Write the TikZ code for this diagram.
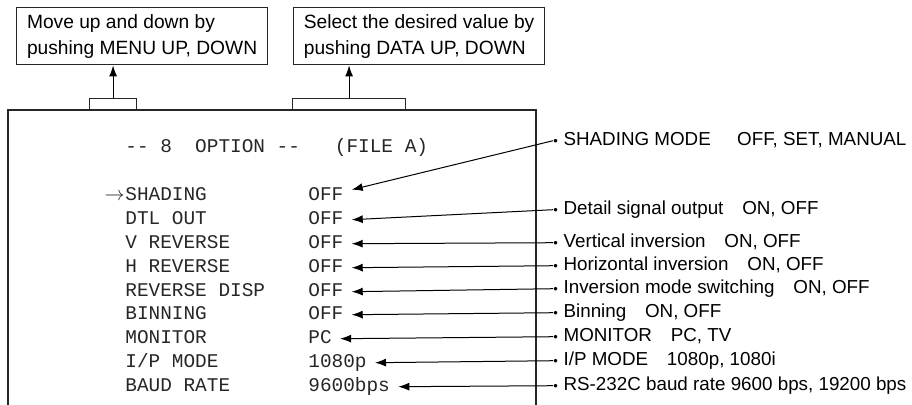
\documentclass[tikz,border=0pt]{standalone}
\usepackage{fontspec}
\setmainfont{Liberation Sans}
\setmonofont{Liberation Mono}
\usetikzlibrary{arrows.meta}

\newcommand{\bul}{\raisebox{0.3pt}{\fontsize{6.5}{5}\selectfont •}\hspace{0.3em}}

\begin{document}
\begin{tikzpicture}[
		x=0.5pt, y=-0.5pt,
		note/.style={rectangle, draw=black!85, line width=0.6pt, align=left,
			minimum width=125.5pt, minimum height=28pt, anchor=north west,
			font=\fontsize{9.6}{13}\selectfont},
		tab/.style={rectangle, draw=black!85, line width=0.6pt, inner sep=0,
			minimum height=5.5pt, anchor=south west},
		frame/.style={draw=black!85, line width=0.6pt},
		entry/.style={anchor=base west, inner sep=0, text=black!85,
			font=\ttfamily\fontsize{9.7}{12}\selectfont},
		setting/.style={entry, inner xsep=4pt},
		remark/.style={anchor=base west, inner sep=0, font=\fontsize{9.4}{12}\selectfont},
		arr/.style={-{Latex[length=5.5pt, width=4pt]}, line width=0.5pt}
	]
	\useasboundingbox (0,0) rectangle (912,405);

	\node[note] (menu) at (16,7) {Move up and down by\\pushing MENU UP, DOWN};
	\node[note] (data) at (293,7) {Select the desired value by\\pushing DATA UP, DOWN};

	\draw[frame] (8,405) |- (536,110) -- (536,405);
	\node[tab, minimum width=23.5pt] (tabmenu) at (89,110) {};
	\node[tab, minimum width=56.5pt] (tabdata) at (292,110) {};
	\draw[arr] (tabmenu.north) -- (tabmenu.north |- menu.south);
	\draw[arr] (tabdata.north) -- (tabdata.north |- data.south);

	\node[entry] (title) at (125,153) {--\ 8\ \ OPTION\ --\ \ \ (FILE A)};

	\foreach \yy/\ly/\nm/\vl/\ds [count=\i] in {
		201/146/SHADING/OFF/{\bul SHADING MODE\hspace{1.4em}OFF, SET, MANUAL},
		225/215/DTL OUT/OFF/{\bul Detail signal output\quad ON, OFF},
		249/248/V REVERSE/OFF/{\bul Vertical inversion\quad ON, OFF},
		273/271/H REVERSE/OFF/{\bul Horizontal inversion\quad ON, OFF},
		297/294/REVERSE DISP/OFF/{\bul Inversion mode switching\quad ON, OFF},
		320/318/BINNING/OFF/{\bul Binning\quad ON, OFF},
		344/342/MONITOR/PC\ /{\bul MONITOR\quad PC, TV},
		368/366/{I/P MODE}/1080p/{\bul I/P MODE\quad 1080p, 1080i},
		392/391/BAUD RATE/9600bps/{\bul RS-232C baud rate 9600 bps, 19200 bps}
	}{
		\node[entry] (n\i) at (125,\yy) {\nm};
		\node[setting] (v\i) at (300,\yy) {\vl};
		\node[remark] (r\i) at (553,\ly) {\ds};
	}
	\node[entry, anchor=base east] (cursor) at (n1.base west) {$\rightarrow$};

	\draw[arr] (r1.mid west) -- ([yshift=3pt]v1.mid east);
	\foreach \i in {2,...,9}
		\draw[arr] (r\i.mid west) -- (v\i.mid east);
\end{tikzpicture}
\end{document}
